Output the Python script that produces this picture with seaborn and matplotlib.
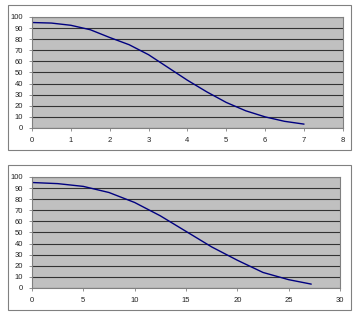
import matplotlib
matplotlib.use('Agg')
import matplotlib.pyplot as plt
from matplotlib.patches import Rectangle
import seaborn as sns

# top chart
x_top = [0, 0.5, 1, 1.5, 2, 2.5, 3, 3.5, 4, 4.5, 5, 5.5, 6, 6.5, 7]
y_top = [95, 94.5, 92.5, 88.5, 81.5, 75, 66, 54.5, 43, 32.5, 23, 15.5, 10, 6, 3.5]

# bottom chart
x_bot = [0, 2.5, 5, 7.5, 10, 12.5, 15, 17.5, 20, 22.5, 25, 27.2]
y_bot = [95, 94, 91.5, 86, 77, 65, 51, 37, 25, 14, 7.5, 3.5]

sns.set_style('white')
plt.rcParams['font.family'] = ['Liberation Sans', 'DejaVu Sans']

fig = plt.figure(figsize=(3.59, 3.2), dpi=100)

# outer chart frames
for yb in [0.531, 0.031]:
    fig.patches.append(Rectangle((0.0223, yb), 0.955, 0.453, transform=fig.transFigure,
                                 fill=False, edgecolor='#808080', linewidth=0.8))

ax1 = fig.add_axes([0.0891, 0.6, 0.866, 0.347])
ax2 = fig.add_axes([0.0891, 0.1, 0.858, 0.347])

def style(ax, xmax, xstep):
    ax.set_facecolor('#c0c0c0')
    ax.set_xlim(0, xmax)
    ax.set_ylim(0, 100)
    ax.set_xticks(range(0, xmax + 1, xstep))
    ax.set_yticks(range(0, 101, 10))
    ax.grid(axis='y', color='#333333', linewidth=0.8)
    ax.set_axisbelow(True)
    for s in ax.spines.values():
        s.set_color('#808080')
        s.set_linewidth(0.8)
    ax.tick_params(axis='both', labelsize=5.5, colors='#808080', labelcolor='#222222',
                   length=2.5, width=0.6, direction='out', pad=4, bottom=True, left=True)
    ax.set_xlabel('')
    ax.set_ylabel('')

sns.lineplot(x=x_top, y=y_top, ax=ax1, color='#000080', linewidth=1.0)
style(ax1, 8, 1)

sns.lineplot(x=x_bot, y=y_bot, ax=ax2, color='#000080', linewidth=1.0)
style(ax2, 30, 5)

fig.savefig('out.png', dpi=100)
